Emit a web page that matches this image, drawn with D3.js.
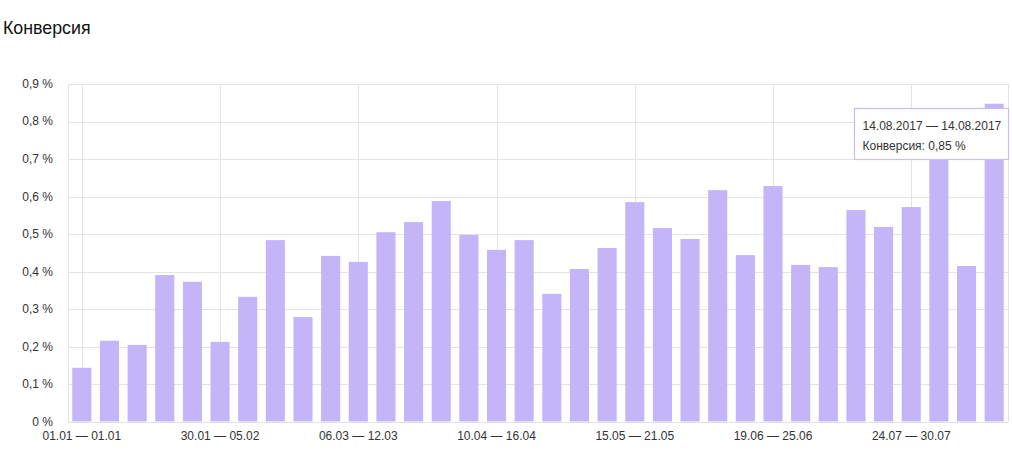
<!DOCTYPE html>
<html>
<head>
<meta charset="utf-8">
<script src="https://cdn.jsdelivr.net/npm/d3@7"></script>
<style>
  body { margin: 0; background: #fff; }
  text { font-family: "Liberation Sans", Arial, sans-serif; }
</style>
</head>
<body>
<div id="chart"></div>
<script>
// weekly periods, 2017
const weeks = [
  "01.01 — 01.01", "02.01 — 08.01", "09.01 — 15.01", "16.01 — 22.01", "23.01 — 29.01",
  "30.01 — 05.02", "06.02 — 12.02", "13.02 — 19.02", "20.02 — 26.02", "27.02 — 05.03",
  "06.03 — 12.03", "13.03 — 19.03", "20.03 — 26.03", "27.03 — 02.04", "03.04 — 09.04",
  "10.04 — 16.04", "17.04 — 23.04", "24.04 — 30.04", "01.05 — 07.05", "08.05 — 14.05",
  "15.05 — 21.05", "22.05 — 28.05", "29.05 — 04.06", "05.06 — 11.06", "12.06 — 18.06",
  "19.06 — 25.06", "26.06 — 02.07", "03.07 — 09.07", "10.07 — 16.07", "17.07 — 23.07",
  "24.07 — 30.07", "31.07 — 06.08", "07.08 — 13.08", "14.08 — 14.08"
];

// conversion, %
const conversion = [
  0.143, 0.215, 0.204, 0.390, 0.372, 0.212, 0.332, 0.483, 0.278, 0.441,
  0.425, 0.504, 0.531, 0.587, 0.497, 0.457, 0.483, 0.340, 0.406, 0.462,
  0.584, 0.515, 0.486, 0.616, 0.443, 0.627, 0.417, 0.411, 0.563, 0.518,
  0.571, 0.740, 0.414, 0.846
];

const yTicks = [0, 0.1, 0.2, 0.3, 0.4, 0.5, 0.6, 0.7, 0.8, 0.9];
const labelEvery = 5;
const title = "Конверсия";
const tooltipIndex = 33;
const tooltipRange = "14.08.2017 — 14.08.2017";

const W = 1012, H = 458;
const margin = {top: 83.5, right: 4, bottom: 36.5, left: 68};
const width = W - margin.left - margin.right;
const height = H - margin.top - margin.bottom;

const fmt = (v, d) => d3.format("." + d + "f")(v).replace(".", ",") + " %";

const svg = d3.select("#chart").append("svg")
  .attr("width", W)
  .attr("height", H);

svg.append("text")
  .attr("x", 3)
  .attr("y", 34)
  .attr("font-size", 17.8)
  .attr("fill", "#111")
  .text(title);

const g = svg.append("g")
  .attr("transform", `translate(${margin.left},${margin.top})`);

const x = d3.scaleBand()
  .domain(weeks)
  .range([0, width])
  .paddingInner(0.31)
  .paddingOuter(0.155);

const xc = d => x(d) + x.bandwidth() / 2;

const y = d3.scaleLinear()
  .domain([0, 0.9])
  .range([height, 0]);

const labelled = weeks.filter((d, i) => i % labelEvery === 0);

// grid
const grid = g.append("g")
  .attr("stroke", "#e3e3e3")
  .attr("stroke-width", 1)
  .attr("shape-rendering", "crispEdges");

grid.selectAll("line.h")
  .data(yTicks)
  .join("line")
    .attr("class", "h")
    .attr("x1", 0)
    .attr("x2", width)
    .attr("y1", d => Math.round(y(d)) + 0.5)
    .attr("y2", d => Math.round(y(d)) + 0.5);

grid.selectAll("line.v")
  .data(labelled)
  .join("line")
    .attr("class", "v")
    .attr("x1", d => Math.round(xc(d)) + 0.5)
    .attr("x2", d => Math.round(xc(d)) + 0.5)
    .attr("y1", 0)
    .attr("y2", height);

grid.selectAll("line.edge")
  .data([0, width])
  .join("line")
    .attr("class", "edge")
    .attr("x1", d => Math.round(d) + 0.5)
    .attr("x2", d => Math.round(d) + 0.5)
    .attr("y1", 0)
    .attr("y2", height);

// bars
g.append("g")
  .attr("fill", "#c3b5f7")
  .selectAll("rect")
  .data(conversion)
  .join("rect")
    .attr("x", (d, i) => x(weeks[i]))
    .attr("width", x.bandwidth())
    .attr("y", d => y(d))
    .attr("height", d => height - y(d));

// y axis
const yAxis = g.append("g")
  .call(d3.axisLeft(y).tickValues(yTicks).tickSize(0).tickPadding(15)
    .tickFormat(d => d === 0 ? "0 %" : fmt(d, 1)));
yAxis.select(".domain").remove();
yAxis.selectAll("text")
  .attr("font-size", 12)
  .attr("font-family", "Liberation Sans, Arial, sans-serif")
  .attr("fill", "#333");

// x axis
const xAxis = g.append("g")
  .attr("transform", `translate(0,${height})`)
  .call(d3.axisBottom(x).tickValues(labelled).tickSize(0).tickPadding(10));
xAxis.select(".domain").remove();
xAxis.selectAll("text")
  .attr("font-size", 12)
  .attr("font-family", "Liberation Sans, Arial, sans-serif")
  .attr("fill", "#333");

// tooltip
const tip = svg.append("g")
  .attr("transform", "translate(854.5,108.5)");
tip.append("rect")
  .attr("width", 154)
  .attr("height", 51)
  .attr("fill", "#fff")
  .attr("stroke", "#c9bdf6")
  .attr("stroke-width", 1.2);
tip.append("text")
  .attr("x", 8)
  .attr("y", 21)
  .attr("font-size", 12)
  .attr("fill", "#333")
  .text(tooltipRange);
tip.append("text")
  .attr("x", 8)
  .attr("y", 41)
  .attr("font-size", 12)
  .attr("fill", "#333")
  .text(title + ": " + fmt(conversion[tooltipIndex], 2));
</script>
</body>
</html>
